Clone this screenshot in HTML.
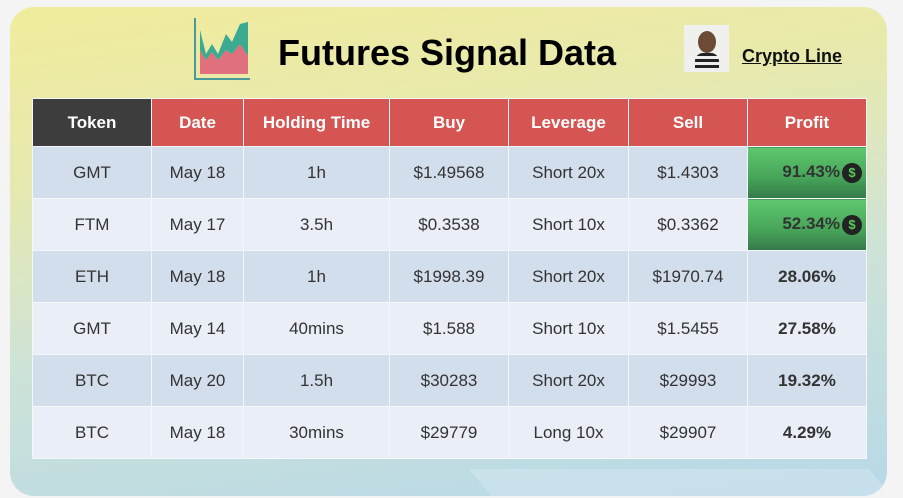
<!DOCTYPE html>
<html><head><style>
html,body{margin:0;width:903px;height:498px;background:#f4f4f5;position:relative;overflow:hidden;font-family:"Liberation Sans",sans-serif}
.card{position:absolute;left:10px;top:7px;width:877px;height:489px;border-radius:24px;background:linear-gradient(172deg,#f1ec9c 0%,#e6e9b0 30%,#cde3d8 60%,#b7d8e8 100%);overflow:hidden}
.shape{position:absolute;left:470px;top:462px;width:400px;height:27px;background:#d6e8f1;transform:skewX(40deg);opacity:.5}
.title{position:absolute;left:278px;top:32px;font-size:36px;font-weight:bold;color:#000}
.cl{position:absolute;left:742px;top:46px;font-size:18px;font-weight:bold;text-decoration:underline;color:#111}
table{position:absolute;left:32px;top:98px;border-collapse:collapse}
td,th{border:1px solid #f4f6fa;text-align:center;font-size:17px;color:#333;padding:0}
th{background:#d45552;color:#fff;font-weight:bold;height:47px}
th:first-child{background:#3d3d3d}
tr:nth-child(even) td{background:#d3deed}
tr:nth-child(odd) td{background:#e9eef7}
td{height:51px}
td.p{font-weight:bold}
td.g{background:linear-gradient(#5fc76e,#46a458 60%,#35794a)!important;text-align:right;padding-right:4px}
.coin{display:inline-block;width:20px;height:20px;border-radius:50%;background:#222;color:#5c5;font-size:13px;line-height:20px;text-align:center;vertical-align:middle;margin-left:2px}
</style></head><body>
<div class="card"><div class="shape"></div></div>
<svg style="position:absolute;left:192px;top:16px" width="60" height="66">
<line x1="3" y1="2" x2="3" y2="64" stroke="#4a9a9a" stroke-width="2"/>
<line x1="3" y1="63" x2="58" y2="63" stroke="#4a9a9a" stroke-width="2"/>
<polygon points="8,58 8,34 14,44 20,36 26,44 34,34 40,38 48,28 56,40 56,58" fill="#e0707e"/>
<polygon points="8,34 8,14 14,38 20,28 26,38 34,18 40,26 48,8 56,6 56,40 48,28 40,38 34,34 26,44 20,36 14,44" fill="#3aaa90"/>
</svg>
<div class="title">Futures Signal Data</div>
<div style="position:absolute;left:684px;top:25px;width:45px;height:47px;background:#f0f0ee"><div style="position:absolute;left:14px;top:6px;width:18px;height:22px;border-radius:50%;background:#6b4a36"></div><div style="position:absolute;left:11px;top:28px;width:24px;height:18px;background:repeating-linear-gradient(#222 0 3px,#eee 3px 6px);border-radius:8px 8px 0 0"></div></div>
<div class="cl">Crypto Line</div>
<table>
<tr><th style="width:118px">Token</th><th style="width:91px">Date</th><th style="width:145px">Holding Time</th><th style="width:118px">Buy</th><th style="width:119px">Leverage</th><th style="width:118px">Sell</th><th style="width:118px">Profit</th></tr>
<tr><td>GMT</td><td>May 18</td><td>1h</td><td>$1.49568</td><td>Short 20x</td><td>$1.4303</td><td class="p g">91.43%<span class="coin">$</span></td></tr>
<tr><td>FTM</td><td>May 17</td><td>3.5h</td><td>$0.3538</td><td>Short 10x</td><td>$0.3362</td><td class="p g">52.34%<span class="coin">$</span></td></tr>
<tr><td>ETH</td><td>May 18</td><td>1h</td><td>$1998.39</td><td>Short 20x</td><td>$1970.74</td><td class="p">28.06%</td></tr>
<tr><td>GMT</td><td>May 14</td><td>40mins</td><td>$1.588</td><td>Short 10x</td><td>$1.5455</td><td class="p">27.58%</td></tr>
<tr><td>BTC</td><td>May 20</td><td>1.5h</td><td>$30283</td><td>Short 20x</td><td>$29993</td><td class="p">19.32%</td></tr>
<tr><td>BTC</td><td>May 18</td><td>30mins</td><td>$29779</td><td>Long 10x</td><td>$29907</td><td class="p">4.29%</td></tr>
</table>
</body></html>
